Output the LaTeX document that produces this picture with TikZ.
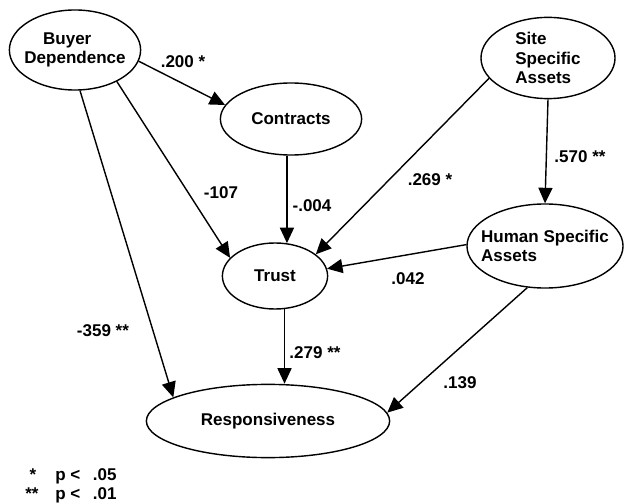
\documentclass[tikz,border=0pt]{standalone}
\usepackage{fontspec}
\setmainfont{Liberation Sans}
\usetikzlibrary{shapes.geometric,arrows.meta}

\begin{document}
\begin{tikzpicture}[x=0.025cm, y=-0.025cm,
  font=\fontsize{12.1}{13.8}\selectfont\bfseries,
  var/.style={draw, ellipse, line width=1pt, inner sep=0pt},
  link/.style={draw, line width=1pt, -{Triangle[length=11pt,width=10pt]}},
  coef/.style={inner sep=0pt}]

\useasboundingbox (0,0) rectangle (624,504);

% -------- Variables -----------
\node[var, minimum width=3.28cm, minimum height=2cm, label={[align=left]center:\hspace*{1.1em}Buyer\\Dependence}] (bd) at (75,50) {};
\node[var, minimum width=3.53cm, minimum height=1.8cm, label=center:Contracts] (con) at (291,119) {};
\node[var, minimum width=3.35cm, minimum height=2.03cm, label={[align=left]center:Site\\Specific\\Assets}] (ssa) at (548,58) {};
\node[var, minimum width=3.9cm, minimum height=2.1cm, label={[align=left]center:Human Specific\\Assets}] (hsa) at (545,246) {};
\node[var, minimum width=2.63cm, minimum height=1.65cm, label=center:Trust] (trust) at (275,276) {};
\node[var, minimum width=6.08cm, minimum height=1.83cm, label=center:Responsiveness] (resp) at (268,421) {};

% -------- Paths -----------
\draw[link] (bd.-10) -- (con.168);
\draw[link] (bd.-37) -- (trust.158);
\draw[link] (bd.-83) -- (resp.166);
\draw[link] (trust.70 |- con.south) -- (trust.70);
\draw[link] (ssa.199) -- (trust.28);
\draw[link] (ssa.south) -- (hsa.north);
\draw[link] (hsa.179) -- (trust.8);
\draw[link] (trust.-74) -- (trust.-74 |- resp.north);
\draw[link] (hsa.247) -- (resp.4);

% -------- Coefficients -----------
\node[coef] (c200) at (183,62)  {.200 *};
\node[coef] (c107) at (221,193) {-107};
\node[coef] (c004) at (312,206) {-.004};
\node[coef] (c269) at (430,180) {.269 *};
\node[coef] (c570) at (580,157) {.570 **};
\node[coef] (c042) at (408,279) {.042};
\node[coef] (c359) at (103,331) {-359 **};
\node[coef] (c279) at (315,353) {.279 **};
\node[coef] (c139) at (460,383) {.139};

% -------- Legend -----------
\node[coef] (star1) at (33,475) {*};
\node[coef] (star2) at (32,494) {**};
\node[coef, anchor=west] (p05) at (55,476) {p <\hspace{9pt}.05};
\node[coef, anchor=west] (p01) at (55,495) {p <\hspace{9pt}.01};
\end{tikzpicture}
\end{document}
